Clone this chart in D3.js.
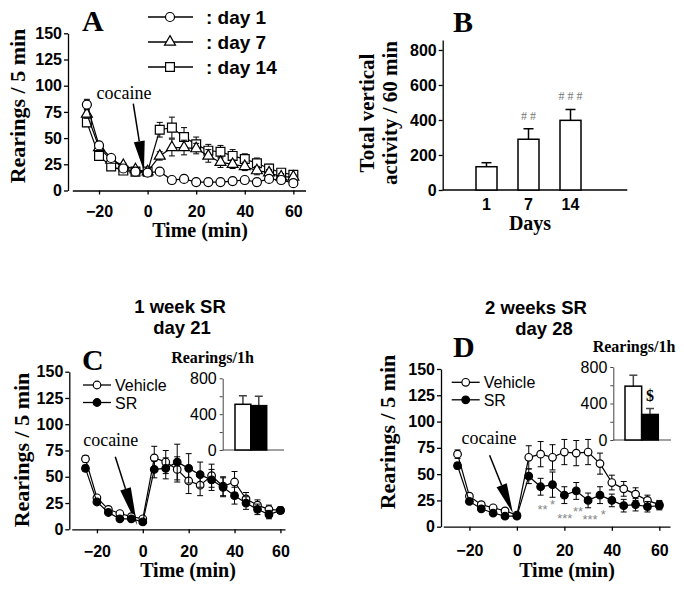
<!DOCTYPE html>
<html>
<head>
<meta charset="utf-8">
<script src="https://cdn.jsdelivr.net/npm/d3@7"></script>
<style>
    body { margin: 0; background: #fff; }
    svg { display: block; }
    .tick text { font-family: "Liberation Sans", Arial, sans-serif; font-weight: bold; font-size: 16px; fill: #000; }
    .inset .tick text { font-weight: normal; }
    .inset path, .inset line { stroke: #444; }
</style>
</head>
<body>
<svg id="chart" width="684" height="591"></svg>
<script>
// 時間軸 (min)
const timePts = [-25, -20, -15, -10, -5, 0, 5, 10, 15, 20, 25, 30, 35, 40, 45, 50, 55, 60];
const xTicks = [-20, 0, 20, 40, 60];
const yTicks = [0, 25, 50, 75, 100, 125, 150];

// パネルA
const day1 = [82, 43, 31, 21, 18, 17, 18, 10, 11, 8, 8, 8, 9, 10, 8, 11, 10, 7];
const day1Err = [5, 2, 2, 1, 1, 1, 1, 1, 1, 1, 1, 1, 1, 1, 1, 1, 1, 1];
const day7 = [73, 41, 29, 24, 20, 18, 33, 41, 41, 40, 33, 27, 25, 23, 19, 17, 13, 13];
const day7Err = [4, 3, 2, 2, 2, 2, 4, 8, 7, 5, 6, 5, 4, 4, 4, 3, 3, 2];
const day14 = [65, 33, 23, 19, 18, 18, 58, 60, 51, 44, 38, 37, 33, 30, 26, 21, 17, 15];
const day14Err = [4, 3, 2, 2, 2, 2, 7, 10, 9, 7, 6, 6, 6, 5, 5, 4, 3, 3];
const legendA = [': day 1', ': day 7', ': day 14'];

// パネルB
const days = ['1', '7', '14'];
const totals = [133, 290, 398];
const totalsErr = [23, 60, 62];
const totalsSig = ['', '# #', '# # #'];
const bTicks = [0, 200, 400, 600, 800];

// パネルC
const vehC = [67, 30, 19, 15, 12, 10, 68, 64, 57, 46, 42, 51, 41, 45, 29, 23, 19, 18];
const vehCErr = [3, 2, 2, 2, 2, 2, 11, 11, 12, 12, 10, 11, 9, 10, 6, 5, 4, 3];
const srC = [58, 26, 16, 10, 10, 7, 57, 58, 64, 58, 52, 47, 40, 32, 25, 19, 14, 18];
const srCErr = [3, 2, 2, 2, 2, 2, 8, 10, 17, 14, 12, 10, 9, 8, 6, 5, 4, 3];
const insetC = [510, 495];
const insetCErr = [95, 105];
const titleC = ['1 week SR', 'day 21'];

// パネルD
const vehD = [69, 29, 21, 18, 15, 11, 66, 69, 66, 71, 70, 71, 60, 42, 36, 31, 25, 21];
const vehDErr = [4, 2, 2, 2, 2, 2, 11, 12, 12, 12, 12, 12, 10, 7, 7, 6, 5, 4];
const srD = [58, 24, 17, 13, 10, 10, 48, 38, 40, 30, 34, 25, 30, 25, 20, 21, 19, 20];
const srDErr = [3, 2, 2, 2, 2, 2, 7, 8, 12, 8, 8, 7, 8, 6, 6, 6, 5, 4];
const insetD = [590, 280];
const insetDErr = [120, 65];
const insetSigD = ['', '$'];
const titleD = ['2 weeks SR', 'day 28'];
const starsD = [
    { t: 10.8, v: 17.4, s: '**' },
    { t: 15, v: 22.5, s: '*' },
    { t: 20.2, v: 9.2, s: '***' },
    { t: 25.8, v: 16.2, s: '**' },
    { t: 30.8, v: 7.8, s: '***' },
    { t: 36.4, v: 12.9, s: '*' }
];
const insetTicks = [0, 200, 400, 600, 800];

const SANS = '"Liberation Sans", Arial, sans-serif';
const SERIF = '"Liberation Serif", "Times New Roman", serif';
const svg = d3.select('#chart');

function text(g, x, y, s, o) {
    o = o || {};
    return g.append('text')
        .attr('x', x).attr('y', y)
        .attr('text-anchor', o.anchor || 'start')
        .style('font-family', o.family || SANS)
        .style('font-weight', o.weight || 'normal')
        .style('font-size', (o.size || 16) + 'px')
        .style('fill', o.fill || '#000')
        .text(s);
}

// 2行タイトル
function title2(g, lines, x1, x2, y, dy) {
    text(g, x1, y, lines[0], { anchor: 'middle', weight: 'bold', size: 18.5 });
    text(g, x2, y + dy, lines[1], { anchor: 'middle', weight: 'bold', size: 18.5 });
}

function marker(g, cx, cy, type) {
    if (type === 'circle' || type === 'dot') {
        g.append('circle').attr('cx', cx).attr('cy', cy)
            .attr('r', type === 'circle' ? 4.5 : 3.8)
            .attr('fill', type === 'dot' ? '#000' : '#fff')
            .attr('stroke', '#000').attr('stroke-width', 1.2);
    } else if (type === 'ocircle') {
        g.append('circle').attr('cx', cx).attr('cy', cy).attr('r', 3.8)
            .attr('fill', '#fff').attr('stroke', '#000').attr('stroke-width', 1.2);
    } else {
        const sym = type === 'square' ? d3.symbolSquare : d3.symbolTriangle;
        g.append('path')
            .attr('d', d3.symbol().type(sym).size(type === 'square' ? 78 : 52)())
            .attr('transform', `translate(${cx},${cy})`)
            .attr('fill', '#fff').attr('stroke', '#000').attr('stroke-width', 1.2);
    }
}

function series(g, x, y, vals, errs, type) {
    const line = d3.line().x((d, i) => x(timePts[i])).y(d => y(d));
    g.append('path').datum(vals).attr('d', line)
        .attr('fill', 'none').attr('stroke', '#000').attr('stroke-width', 1.2);
    vals.forEach((v, i) => {
        const cx = x(timePts[i]);
        const y1 = y(v + errs[i]), y2 = y(Math.max(0, v - errs[i]));
        g.append('line').attr('x1', cx).attr('x2', cx).attr('y1', y1).attr('y2', y2)
            .attr('stroke', '#000').attr('stroke-width', 1);
        [y1, y2].forEach(yy => g.append('line')
            .attr('x1', cx - 3).attr('x2', cx + 3).attr('y1', yy).attr('y2', yy)
            .attr('stroke', '#000').attr('stroke-width', 1));
    });
    vals.forEach((v, i) => marker(g, x(timePts[i]), y(v), type));
}

function arrow(g, x1, y1, x2, y2, len, w) {
    const dx = x2 - x1, dy = y2 - y1;
    const L = Math.hypot(dx, dy), ux = dx / L, uy = dy / L;
    const bx = x2 - ux * len, by = y2 - uy * len;
    g.append('line').attr('x1', x1).attr('y1', y1).attr('x2', bx).attr('y2', by)
        .attr('stroke', '#000').attr('stroke-width', 1.5);
    g.append('path')
        .attr('d', `M${x2},${y2}L${bx - uy * w / 2},${by + ux * w / 2}L${bx + uy * w / 2},${by - ux * w / 2}Z`)
        .attr('fill', '#000');
}

function styleAxis(a) {
    a.selectAll('path, line').attr('stroke', '#000').attr('stroke-width', 1.3);
}

// 時間経過パネル共通
function timePanel(cfg) {
    const g = svg.append('g');
    const x = d3.scaleLinear().domain(cfg.xDom).range(cfg.xRange);
    const y = d3.scaleLinear().domain([0, 150]).range(cfg.yRange);

    g.append('g').attr('transform', `translate(${cfg.yAxisX},0)`)
        .call(d3.axisLeft(y).tickValues(yTicks).tickSize(4).tickPadding(2).tickSizeOuter(0))
        .call(styleAxis);
    g.append('g').attr('transform', `translate(0,${cfg.yRange[0]})`)
        .call(d3.axisBottom(x).tickValues(xTicks).tickSize(4).tickPadding(cfg.xPad).tickSizeOuter(0))
        .call(styleAxis);

    text(g, cfg.xTitle[0], cfg.xTitle[1], 'Time (min)', { anchor: 'middle', family: SERIF, weight: 'bold', size: 20 });
    g.append('text')
        .attr('transform', `translate(${cfg.yTitle[0]},${cfg.yTitle[1]}) rotate(-90)`)
        .attr('text-anchor', 'middle').attr('dy', '0.35em')
        .style('font-family', SERIF).style('font-weight', 'bold').style('font-size', '22px')
        .text('Rearings / 5 min');
    text(g, cfg.letter[1], cfg.letter[2], cfg.letter[0], { family: SERIF, weight: 'bold', size: 30 });

    // cocaine 注記
    text(g, x(cfg.coc[0]), y(cfg.coc[1]), 'cocaine', { family: SERIF, size: 18 });
    arrow(g, x(cfg.arr[0]), y(cfg.arr[1]), x(cfg.arr[2]), y(cfg.arr[3]), cfg.arr[4], 11);

    cfg.series.forEach(s => series(g, x, y, s[0], s[1], s[2]));
    return { g, x, y };
}

// ---------- A ----------
const A = timePanel({
    xDom: [-31, 65], xRange: [72.3, 305.5], yRange: [190.5, 33.3], yAxisX: 68,
    xPad: 11, xTitle: [200, 237], yTitle: [17, 106], letter: ['A', 82, 31],
    coc: [-21, 87], arr: [-5.9, 83, -1.5, 18.5, 30],
    series: [[day14, day14Err, 'square'], [day7, day7Err, 'triangle'], [day1, day1Err, 'circle']]
});
['circle', 'triangle', 'square'].forEach((m, i) => {
    const yy = 17 + i * 25;
    A.g.append('line').attr('x1', 148).attr('x2', 193).attr('y1', yy).attr('y2', yy)
        .attr('stroke', '#000').attr('stroke-width', 1.3);
    marker(A.g, 170, yy, m);
    text(A.g, 206, yy + 7, legendA[i], { weight: 'bold', size: 19 });
});

// ---------- B ----------
{
    const g = svg.append('g');
    const y = d3.scaleLinear().domain([0, 857]).range([190, 40]);
    const x = d3.scaleBand().domain(days).range([455, 602]).padding(0.5);
    g.append('g').attr('transform', 'translate(442.7,0)')
        .call(d3.axisLeft(y).tickValues(bTicks).tickSize(4).tickPadding(2).tickSizeOuter(0))
        .call(styleAxis);
    const xa = g.append('g').attr('transform', 'translate(0,190)')
        .call(d3.axisBottom(x).tickSize(0).tickPadding(9));
    xa.select('.domain').remove();
    g.append('line').attr('x1', 442.7).attr('x2', 627.3).attr('y1', 190).attr('y2', 190)
        .attr('stroke', '#000').attr('stroke-width', 1.3);

    days.forEach((d, i) => {
        const cx = x(d) + x.bandwidth() / 2;
        const top = y(totals[i] + totalsErr[i]);
        g.append('line').attr('x1', cx).attr('x2', cx).attr('y1', y(totals[i])).attr('y2', top)
            .attr('stroke', '#000').attr('stroke-width', 1.5);
        g.append('line').attr('x1', cx - 5).attr('x2', cx + 5).attr('y1', top).attr('y2', top)
            .attr('stroke', '#000').attr('stroke-width', 1.5);
        g.append('rect').attr('x', x(d)).attr('width', x.bandwidth())
            .attr('y', y(totals[i])).attr('height', y(0) - y(totals[i]))
            .attr('fill', '#fff').attr('stroke', '#000').attr('stroke-width', 1.5);
        if (totalsSig[i]) {
            text(g, cx, y(totals[i] + totalsErr[i] + 75) + 4, totalsSig[i],
                { anchor: 'middle', family: SERIF, size: 12, fill: '#777' });
        }
    });
    text(g, 530, 230, 'Days', { anchor: 'middle', family: SERIF, weight: 'bold', size: 20 });
    text(g, 453, 32, 'B', { family: SERIF, weight: 'bold', size: 30 });
    [['Total vertical', 366.7], ['activity / 60 min', 390]].forEach(l => {
        g.append('text')
            .attr('transform', `translate(${l[1]},113) rotate(-90)`)
            .attr('text-anchor', 'middle').attr('dy', '0.35em')
            .style('font-family', SERIF).style('font-weight', 'bold').style('font-size', '21px')
            .text(l[0]);
    });
}

// インセット棒グラフ
function inset(cfg) {
    const g = svg.append('g').attr('class', 'inset');
    const y = d3.scaleLinear().domain([0, 800]).range(cfg.yRange);
    const x = d3.scaleBand().domain(['Vehicle', 'SR']).range(cfg.bars).padding(0);
    g.append('g').attr('transform', `translate(${cfg.axisX},0)`)
        .call(d3.axisLeft(y).tickValues(insetTicks).tickSize(3).tickPadding(3).tickSizeOuter(0)
            .tickFormat(d => d % 400 === 0 ? d : ''))
        .call(a => a.selectAll('path, line').attr('stroke-width', 1));
    g.append('line').attr('x1', cfg.axisX).attr('x2', cfg.lineEnd)
        .attr('y1', cfg.yRange[0]).attr('y2', cfg.yRange[0])
        .attr('stroke', '#444').attr('stroke-width', 1);
    x.domain().forEach((k, i) => {
        const cx = x(k) + x.bandwidth() / 2;
        const top = y(cfg.vals[i] + cfg.errs[i]);
        g.append('line').attr('x1', cx).attr('x2', cx).attr('y1', y(cfg.vals[i])).attr('y2', top)
            .attr('stroke', '#000').attr('stroke-width', 1.5);
        g.append('line').attr('x1', cx - 4).attr('x2', cx + 4).attr('y1', top).attr('y2', top)
            .attr('stroke', '#000').attr('stroke-width', 1.5);
        g.append('rect').attr('x', x(k)).attr('width', x.bandwidth())
            .attr('y', y(cfg.vals[i])).attr('height', y(0) - y(cfg.vals[i]))
            .attr('fill', i ? '#000' : '#fff').attr('stroke', '#000').attr('stroke-width', 1.5);
        if (cfg.sig && cfg.sig[i]) {
            text(g, cx, y(490) + 6, cfg.sig[i], { anchor: 'middle', family: SERIF, weight: 'bold', size: 16 });
        }
    });
    text(g, cfg.title[0], cfg.title[1], 'Rearings/1h', { anchor: 'middle', family: SERIF, weight: 'bold', size: 16 });
}

function legendCD(g, x0, y0) {
    [['Vehicle', 'ocircle'], ['SR', 'dot']].forEach((l, i) => {
        const yy = y0 + i * 17.5;
        g.append('line').attr('x1', x0).attr('x2', x0 + 28).attr('y1', yy).attr('y2', yy)
            .attr('stroke', '#000').attr('stroke-width', 1.3);
        marker(g, x0 + 14, yy, l[1]);
        text(g, x0 + 32, yy + 6, l[0], { size: 16 });
    });
}

// ---------- C ----------
const C = timePanel({
    xDom: [-31, 62], xRange: [71.7, 285], yRange: [529.3, 371.7], yAxisX: 69.3,
    xPad: 12, xTitle: [188, 577], yTitle: [21, 450], letter: ['C', 82, 370],
    coc: [-26, 79], arr: [-12, 69, -2.5, 4, 38],
    series: [[vehC, vehCErr, 'ocircle'], [srC, srCErr, 'dot']]
});
legendCD(C.g, 83, 385);
title2(C.g, titleC, 180, 182, 312.5, 21);
inset({ yRange: [450, 378.3], axisX: 222.7, lineEnd: 284, bars: [235, 266.7],
    vals: insetC, errs: insetCErr, title: [212.5, 363] });

// ---------- D ----------
const D = timePanel({
    xDom: [-31, 64.5], xRange: [443.3, 670], yRange: [526.7, 369], yAxisX: 441,
    xPad: 14, xTitle: [567, 577], yTitle: [387, 432], letter: ['D', 453, 357],
    coc: [-23.3, 78.7], arr: [-11.5, 68, -1.7, 13, 30],
    series: [[vehD, vehDErr, 'ocircle'], [srD, srDErr, 'dot']]
});
legendCD(D.g, 451.7, 382.3);
title2(D.g, titleD, 536, 544, 314, 21);
starsD.forEach(s => {
    text(D.g, D.x(s.t), D.y(s.v) + 6, s.s, { anchor: 'middle', size: 13, fill: '#888' });
});
inset({ yRange: [440, 367], axisX: 613.3, lineEnd: 671, bars: [625, 658.3],
    vals: insetD, errs: insetDErr, sig: insetSigD, title: [634, 352] });
</script>
</body>
</html>
